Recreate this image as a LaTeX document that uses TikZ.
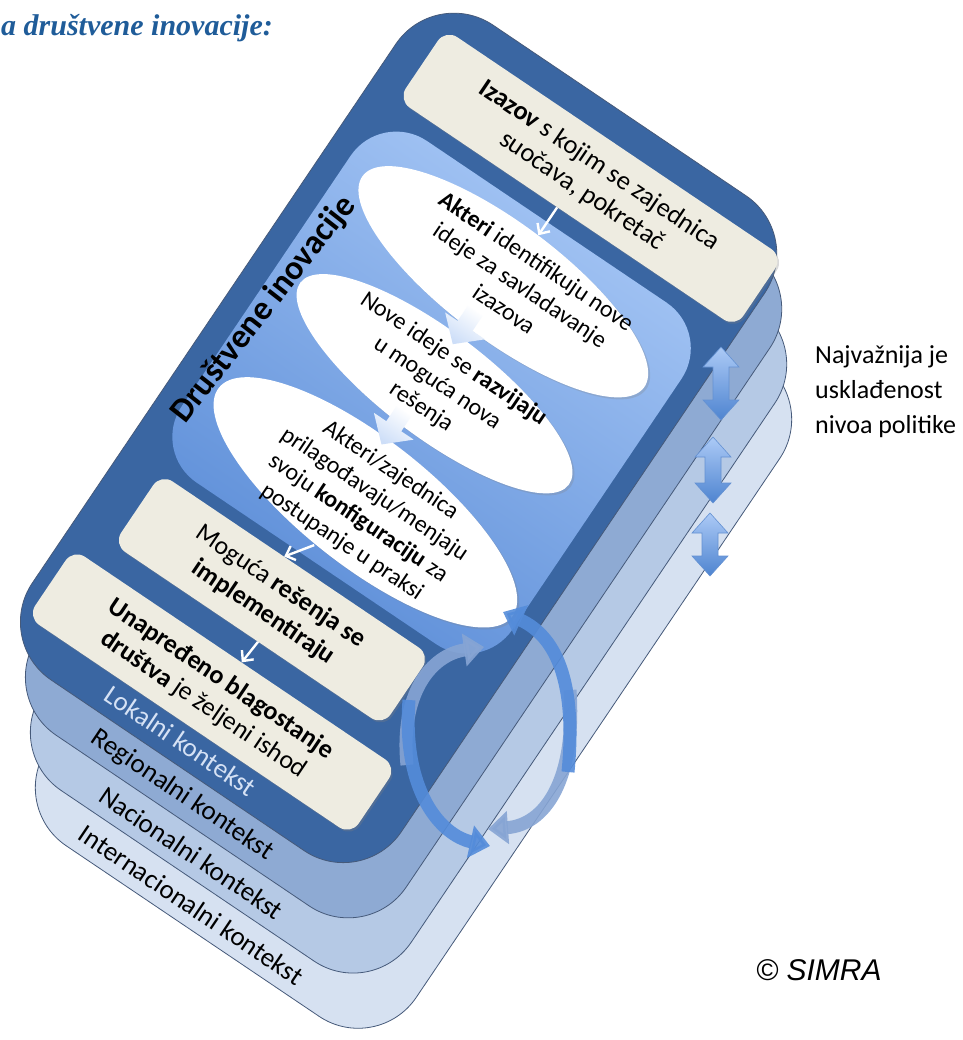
\documentclass[tikz,border=0pt]{standalone}
\usepackage{fontspec}
\setmainfont{Carlito}
\newfontfamily\arialfont{Liberation Sans}
\newfontfamily\titlefont{Liberation Serif}
\usetikzlibrary{arrows.meta,shapes.geometric,shadows}
\definecolor{darkblue}{RGB}{58,102,162}
\definecolor{layerB}{RGB}{142,170,211}
\definecolor{layerC}{RGB}{181,201,229}
\definecolor{layerD}{RGB}{214,225,241}
\definecolor{edgec}{RGB}{70,90,122}
\definecolor{beige}{RGB}{238,236,225}
\definecolor{panelTop}{RGB}{168,200,246}
\definecolor{panelBot}{RGB}{90,140,215}
\definecolor{titleblue}{RGB}{31,92,153}
\definecolor{lokc}{RGB}{214,226,245}
\definecolor{arrLight}{RGB}{172,202,246}
\definecolor{arrDark}{RGB}{78,132,208}
\definecolor{arrEdge}{RGB}{100,145,210}
\definecolor{circMid}{RGB}{84,140,218}
\definecolor{circLight}{RGB}{135,165,212}
\definecolor{blockBot}{RGB}{205,222,248}
\begin{document}
\begin{tikzpicture}[x=1pt,y=-1pt,
  layer/.style={draw=edgec,line width=0.8pt,rounded corners=70pt},
  bbox/.style={fill=beige,rounded corners=14pt,transform shape,align=center,inner sep=0pt,
    drop shadow={opacity=0.3,shadow xshift=1.5pt,shadow yshift=-2pt}},
  ellip/.style={ellipse,fill=white,transform shape,inner sep=0pt,
    drop shadow={opacity=0.25,shadow xshift=2pt,shadow yshift=-2pt}},
  etext/.style={align=center,transform shape,inner sep=0pt,font=\fontsize{24}{29}\selectfont},
  ctx/.style={transform shape,inner sep=0pt,font=\fontsize{27}{30}\selectfont},
  thinarrow/.style={draw=white,line width=2.4pt,-{Straight Barb[length=8pt,width=15pt]}},
  blockarrow/.style={top color=white,bottom color=blockBot,shading angle=-34},
  dblarrow/.style={top color=arrLight,bottom color=arrDark,draw=arrEdge,line width=0.6pt},
  circarrow/.style={line width=13pt,opacity=0.9,-{Triangle[length=20pt,width=32pt]}}
]
\useasboundingbox (0,0) rectangle (962,1040);

\begin{scope}[shift={(435,-14)},rotate=-34]
  % context layers
  \draw[layer,fill=layerD] (105,129) rectangle ++(445,790);
  \draw[layer,fill=layerC] (70,86) rectangle ++(445,790);
  \draw[layer,fill=layerB] (35,43) rectangle ++(445,790);
  \draw[layer,fill=darkblue] (0,0) rectangle (445,790);

  \node[ctx,text=lokc] (lok) at (211,768) {Lokalni kontekst};
  \node[ctx] (reg) at (243,812) {Regionalni kontekst};
  \node[ctx] (nac) at (283,855) {Nacionalni kontekst};
  \node[ctx] (int) at (312,898) {Internacionalni kontekst};

  % inner panel
  \shade[rounded corners=55pt,top color=panelTop,bottom color=panelBot,shading angle=-34]
    (25,133) rectangle (424,545);
  \node[transform shape,rotate=86,inner sep=0pt,font=\bfseries\fontsize{34}{38}\selectfont] (di) at (39,364) {Društvene inovacije};

  % ellipses
  \node[ellip,minimum width=352pt,minimum height=116pt,rotate=-3] (e1) at (222,207) {};
  \node[ellip,minimum width=336pt,minimum height=106pt,rotate=-3] (e2) at (222,330) {};
  \node[ellip,minimum width=372pt,minimum height=128pt,rotate=-4] (e3) at (231,467) {};

  \node[etext] (t1) at (238,200) {\textbf{Akteri} identifikuju nove\\ideje za savladavanje\\izazova};
  \node[etext] (t2) at (224,328) {Nove ideje se \textbf{razvijaju}\\u moguća nova\\rešenja};
  \node[etext] (t3) at (234,470) {Akteri/zajednica\\prilagođavaju/menjaju\\svoju \textbf{konfiguraciju} za\\postupanje u praksi};

  % block arrows between ellipses
  \shade[blockarrow] (206,247) -- (224,247) -- (224,265) -- (239,265) -- (215,287) -- (191,265) -- (206,265) -- cycle;
  \shade[blockarrow] (203,370) -- (221,370) -- (221,388) -- (236,388) -- (212,410) -- (188,388) -- (203,388) -- cycle;

  % beige boxes
  \node[bbox,minimum width=407pt,minimum height=85pt,font=\fontsize{26.5}{31}\selectfont] (izazov) at (236.5,72.5) {\textbf{Izazov} s kojim se zajednica\\suočava, pokretač};
  \node[bbox,minimum width=325pt,minimum height=85pt,font=\fontsize{26}{31}\selectfont] (moguca) at (208,600) {Moguća \textbf{rešenja se}\\\textbf{implementiraju}};
  \node[bbox,minimum width=390pt,minimum height=82pt,font=\fontsize{26}{31}\selectfont] (unapr) at (210,710) {\textbf{Unapređeno blagostanje}\\\textbf{društva} je željeni ishod};

  % thin arrows
  \draw[thinarrow] (izazov.south -| e1.north) -- (e1.north);
  \draw[thinarrow] ([xshift=-14pt]e3.south) -- ([xshift=-14pt]moguca.north);
  \draw[thinarrow] ([xshift=12pt]moguca.south) -- ([xshift=8pt]unapr.north);
\end{scope}

% vertical double arrows
\shade[dblarrow] (721,347) -- (739,367) -- (729,367) -- (729,400) -- (739,400) -- (721,420) -- (703,400) -- (713,400) -- (713,367) -- (703,367) -- cycle;
\shade[dblarrow] (713,437) -- (731,457) -- (721,457) -- (721,483) -- (731,483) -- (713,503) -- (695,483) -- (705,483) -- (705,457) -- (695,457) -- cycle;
\shade[dblarrow] (710,513) -- (728,533) -- (718,533) -- (718,556) -- (728,556) -- (710,576) -- (692,556) -- (702,556) -- (702,533) -- (692,533) -- cycle;

% circular arrows
\coordinate (lu0) at (407,765);
\coordinate (lu1) at (484,647);
\coordinate (ld0) at (409,700);
\coordinate (ld1) at (490,846);
\coordinate (ru0) at (568,772);
\coordinate (ru1) at (503,612);
\coordinate (rd0) at (570,690);
\coordinate (rd1) at (488,829);
\draw[circarrow,draw=circLight] (lu0) .. controls (400,695) and (430,655) .. (lu1);
\draw[circarrow,draw=circLight] (rd0) .. controls (576,780) and (545,825) .. (rd1);
\draw[circarrow,draw=circMid] (ld0) .. controls (402,790) and (440,835) .. (ld1);
\draw[circarrow,draw=circMid] (ru0) .. controls (576,690) and (560,638) .. (ru1);

% texts
\node[anchor=north west,align=left,inner sep=0pt,font=\fontsize{26}{35}\selectfont] (naj) at (815,345) {Najvažnija je\\usklađenost\\nivoa politike};
\node[anchor=west,inner sep=0pt,font=\arialfont\itshape\fontsize{30}{36}\selectfont] (simra) at (756,970) {© SIMRA};
\node[anchor=west,inner sep=0pt,text=titleblue,font=\titlefont\bfseries\itshape\fontsize{30}{34}\selectfont] (title) at (1,28) {a društvene inovacije:};
\end{tikzpicture}
\end{document}
